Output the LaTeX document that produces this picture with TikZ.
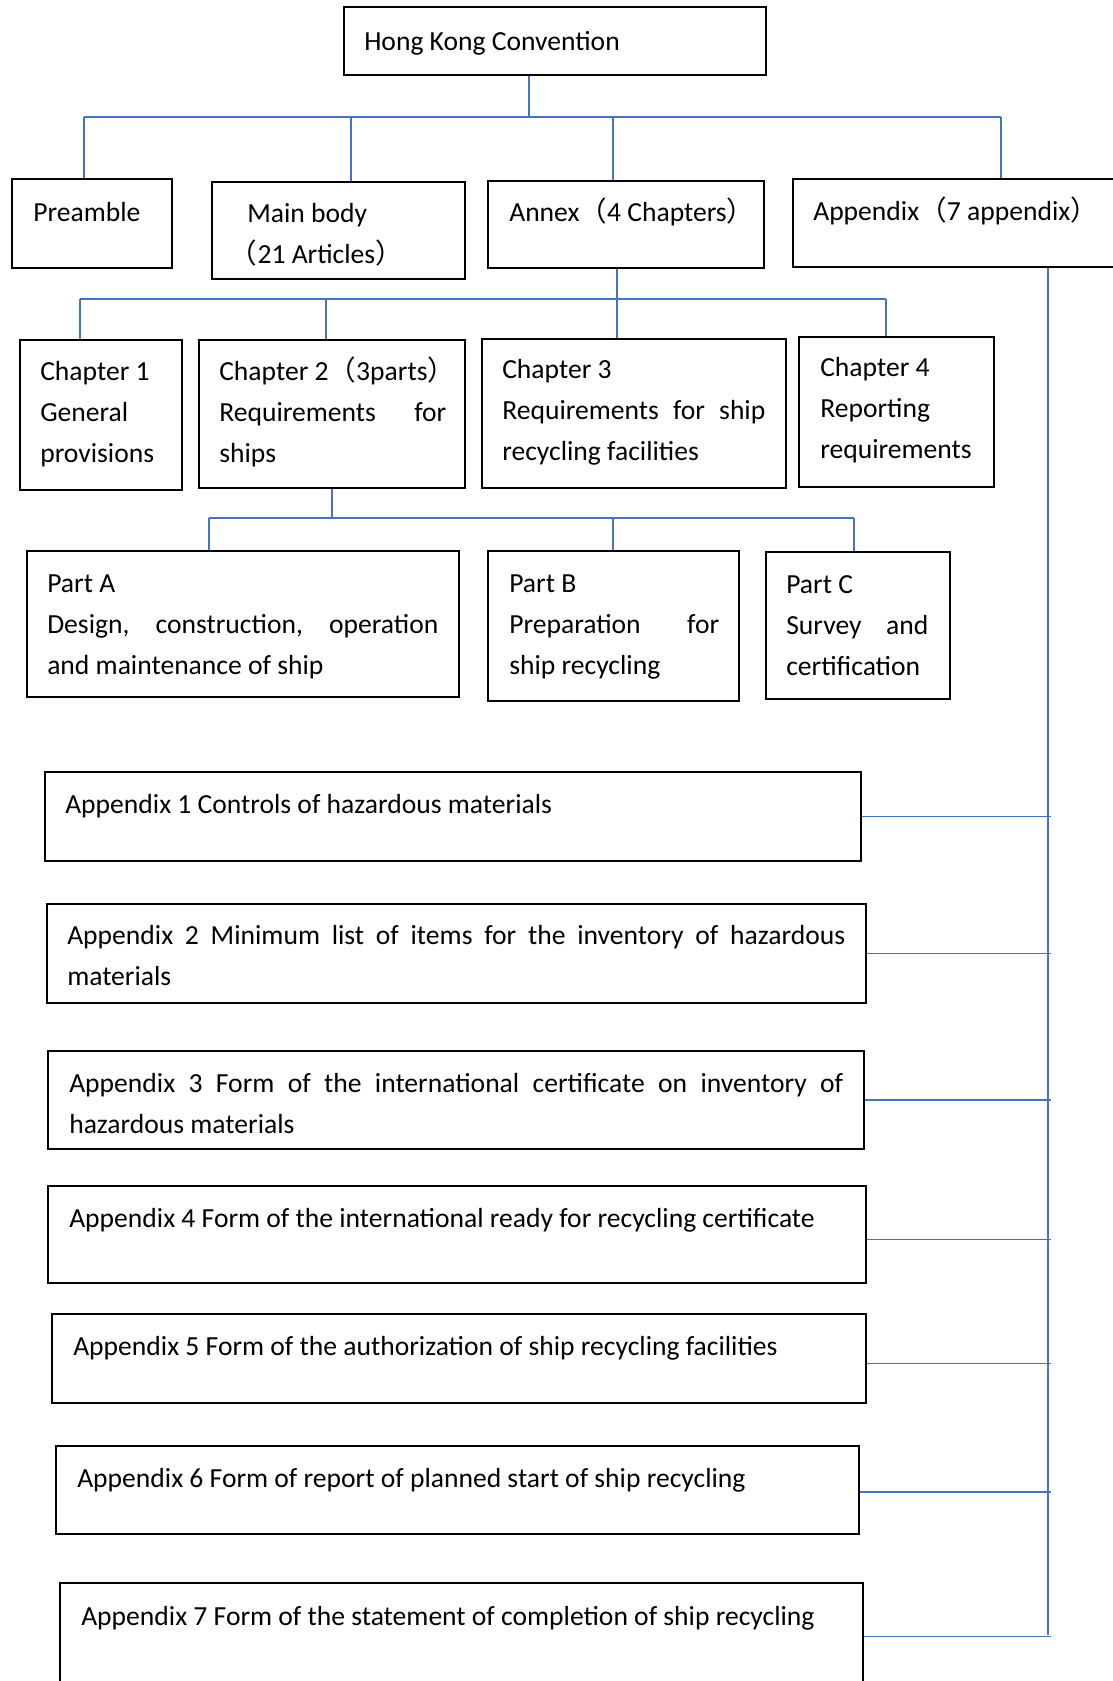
\documentclass[tikz,border=0pt]{standalone}
\usepackage{fontspec}
\setmainfont{Carlito}
\newfontfamily\cjk{Noto Sans CJK SC}
\usetikzlibrary{fit,calc}
\newcommand\lp{{\cjk （}}
\newcommand\rp{{\cjk ）}}
% restore the font's own interword glue inside wrapped node text
\newcommand\nsp{\spaceskip=0pt\xspaceskip=0pt\relax}
% a line spread out to a given width
\newcommand\jline[2]{\makebox[#1][s]{\nsp #2}}
\definecolor{linkblue}{RGB}{68,114,196}
\begin{document}
\begin{tikzpicture}[x=0.75pt,y=-0.75pt,
  box/.style={draw=black, line width=0.9pt, inner sep=0pt, rectangle},
  txt/.style={inner sep=0pt, anchor=base west,
              font=\fontsize{20.7pt}{31pt}\selectfont},
  conn/.style={draw=linkblue, line width=1.3pt}]
\clip (0,0) rectangle (1113,1681);
\fill[white] (0,0) rectangle (1113,1681);

% ---- boxes ----
\node[box, fit={(344,7)(766,75)}] (hk) {};
\node[box, fit={(12,179)(172,268)}] (pre) {};
\node[box, fit={(212,182)(465,279)}] (main) {};
\node[box, fit={(488,181)(764,268)}] (annex) {};
\node[box, fit={(793,179)(1125,267)}] (app) {};
\node[box, fit={(20,340)(182,490)}] (c1) {};
\node[box, fit={(199,340)(465,488)}] (c2) {};
\node[box, fit={(482,339)(786,488)}] (c3) {};
\node[box, fit={(799,337)(994,487)}] (c4) {};
\node[box, fit={(27,551)(459,697)}] (pa) {};
\node[box, fit={(488,551)(739,701)}] (pb) {};
\node[box, fit={(766,552)(950,699)}] (pc) {};
\node[box, fit={(45,772)(861,861)}] (a1) {};
\node[box, fit={(47,904)(866,1003)}] (a2) {};
\node[box, fit={(48,1051)(864,1149)}] (a3) {};
\node[box, fit={(48,1186)(866,1283)}] (a4) {};
\node[box, fit={(52,1314)(866,1403)}] (a5) {};
\node[box, fit={(56,1446)(859,1534)}] (a6) {};
\node[box, fit={(60,1583)(863,1690)}] (a7) {};

% ---- texts ----
\node[txt] (hk-t) at (364,50) {Hong Kong Convention};
\node[txt] (pre-t) at (33,221) {Preamble};
\node[txt, text width=156pt] (main-t) at (247,222) {\nsp Main body\\\hspace*{-13pt}\lp 21 Articles\rp};
\node[txt] (annex-t) at (509,221) {Annex\lp 4 Chapters\rp};
\node[txt] (app-t) at (813,220) {Appendix\lp 7 appendix\rp};

\node[txt, text width=105pt] (c1-t) at (40,380) {\nsp Chapter 1\\General\\provisions};
\node[txt, text width=187pt] (c2-t) at (219,380)
  {\nsp Chapter 2\lp 3parts\rp\\\jline{170.3pt}{Requirements for}\\ships};
\node[txt, text width=202pt] (c3-t) at (502,378)
  {\nsp Chapter 3\\\jline{197.3pt}{Requirements for ship}\\recycling facilities};
\node[txt, text width=124pt] (c4-t) at (820,376) {\nsp Chapter 4\\Reporting\\requirements};

\node[txt, text width=300pt] (pa-t) at (47,592)
  {\nsp Part A\\\jline{293.3pt}{Design, construction, operation}\\and maintenance of ship};
\node[txt, text width=165pt] (pb-t) at (509,592)
  {\nsp Part B\\\jline{157.5pt}{Preparation for}\\ship recycling};
\node[txt, text width=112.5pt] (pc-t) at (786,593)
  {\nsp Part C\\\jline{106.5pt}{Survey and}\\certification};

\node[txt] (a1-t) at (65,813) {Appendix 1 Controls of hazardous materials};
\node[txt, text width=589pt] (a2-t) at (67,944)
  {\nsp\jline{583.5pt}{Appendix 2 Minimum list of items for the inventory of hazardous}\\materials};
\node[txt, text width=585pt] (a3-t) at (69,1092)
  {\nsp\jline{580.5pt}{Appendix 3 Form of the international certificate on inventory of}\\hazardous materials};
\node[txt] (a4-t) at (69,1227) {Appendix 4 Form of the international ready for recycling certificate};
\node[txt] (a5-t) at (73,1355) {Appendix 5 Form of the authorization of ship recycling facilities};
\node[txt] (a6-t) at (77,1487) {Appendix 6 Form of report of planned start of ship recycling};
\node[txt] (a7-t) at (81,1625) {Appendix 7 Form of the statement of completion of ship recycling};

% ---- convention to its four parts ----
\coordinate (j-top) at (529,117);
\coordinate (d-pre) at (84,117);
\coordinate (d-main) at (351,117);
\coordinate (d-annex) at (613,117);
\coordinate (d-app) at (1001,117);
\draw[conn] (hk.south -| j-top) -- (j-top);
\draw[conn] (d-pre) -- (d-app);
\foreach \n/\c in {pre/d-pre, main/d-main, annex/d-annex, app/d-app}
  \draw[conn] (\c) -- (\c |- \n.north);

% ---- annex to chapters ----
\coordinate (j-annex) at (617,299);
\coordinate (d-c1) at (80,299);
\coordinate (d-c2) at (326,299);
\coordinate (d-c3) at (617,299);
\coordinate (d-c4) at (886,299);
\draw[conn] (annex.south -| j-annex) -- (j-annex);
\draw[conn] (d-c1) -- (d-c4);
\foreach \n/\c in {c1/d-c1, c2/d-c2, c3/d-c3, c4/d-c4}
  \draw[conn] (\c) -- (\c |- \n.north);

% ---- chapter 2 to parts ----
\coordinate (j-c2) at (332,518);
\coordinate (d-pa) at (209,518);
\coordinate (d-pb) at (613,518);
\coordinate (d-pc) at (854,518);
\draw[conn] (c2.south -| j-c2) -- (j-c2);
\draw[conn] (d-pa) -- (d-pc);
\foreach \n/\c in {pa/d-pa, pb/d-pb, pc/d-pc}
  \draw[conn] (\c) -- (\c |- \n.north);

% ---- appendix spine and branches ----
\coordinate (spine-end) at (1048,1635);
\draw[conn] (app.south -| spine-end) -- (spine-end);
\path ($(a1.east)+(0,0)$) coordinate (k1)
      ($(a2.east)+(0,0)$) coordinate (k2)
      ($(a3.east)+(0,0)$) coordinate (k3)
      ($(a4.east)+(0,5)$) coordinate (k4)
      ($(a5.east)+(0,5)$) coordinate (k5)
      ($(a6.east)+(0,2)$) coordinate (k6)
      ($(a7.east)+(0,0)$) coordinate (k7);
\foreach \k in {k1,k2,k3,k4,k5,k6,k7}
  \draw[conn] (\k) -- ($(\k -| spine-end)+(3,0)$);
\end{tikzpicture}
\end{document}
